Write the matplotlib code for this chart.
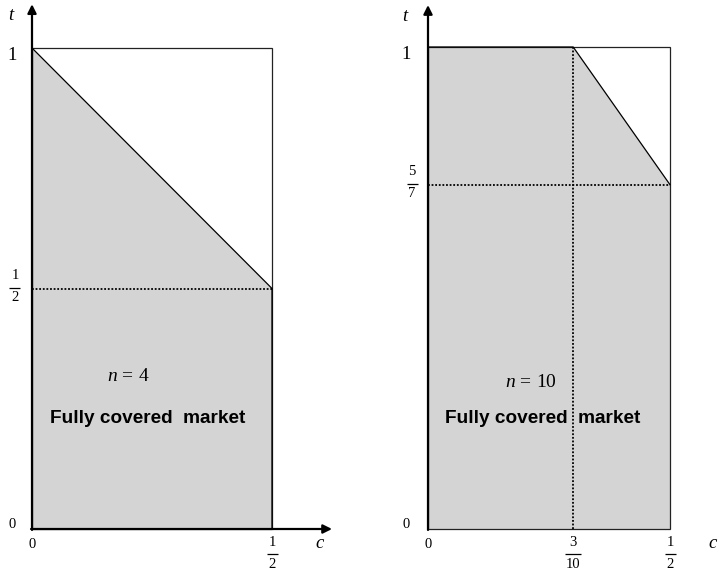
import matplotlib
matplotlib.use("Agg")
import matplotlib.pyplot as plt
from matplotlib.patches import Polygon, Rectangle
from matplotlib.transforms import offset_copy

plt.rcParams["mathtext.fontset"] = "custom"
plt.rcParams["mathtext.rm"] = "Liberation Serif"
plt.rcParams["mathtext.it"] = "Liberation Serif:italic"

SERIF = "Liberation Serif"
SANS = "Liberation Sans"
FILL = "#d4d4d4"

# Parameter space: cost c in [0, 1/2], transport t in [0, 1]
C_MAX = 0.5
T_MAX = 1.0

# Panel A: n = 4
left_n = 4
left_region_c = [0.0, 0.5, 0.5, 0.0]
left_region_t = [1.0, 0.5, 0.0, 0.0]
left_level = 0.5
left_xticks = [0.0, 0.5]
left_xlabels = ["0", "1/2"]
left_yticks = [0.0, 0.5, 1.0]
left_ylabels = ["0", "1/2", "1"]

# Panel B: n = 10
right_n = 10
right_region_c = [0.0, 0.3, 0.5, 0.5, 0.0]
right_region_t = [1.0, 1.0, 5 / 7, 0.0, 0.0]
right_kink = 0.3
right_level = 5 / 7
right_xticks = [0.0, 0.3, 0.5]
right_xlabels = ["0", "3/10", "1/2"]
right_yticks = [0.0, 5 / 7, 1.0]
right_ylabels = ["0", "5/7", "1"]

region_label = "Fully covered  market"

fig = plt.figure(figsize=(7.2, 5.75), dpi=100)


def shifted(ax, dx=0, dy=0):
    return offset_copy(ax.transData, fig=fig, x=dx, y=dy, units="dots")


def label(ax, x, y, s, dx=0, dy=0, size=13, **kw):
    kw.setdefault("family", SERIF)
    ax.text(x, y, s, transform=shifted(ax, dx, dy), ha="center",
            va="center", fontsize=size, **kw)


def frac_label(ax, x, y, text, dx=0, dy=0, size=10):
    num, den = text.split("/")
    label(ax, x, y, num, dx, dy + 12, size=size)
    label(ax, x, y, den, dx, dy - 10, size=size)
    ppu = ax.transData.transform((1, 0))[0] - ax.transData.transform((0, 0))[0]
    hw = (5.5 + 2.5 * (len(den) - 1)) / ppu
    ax.plot([x - hw, x + hw], [y, y], color="k", lw=0.9,
            transform=shifted(ax, dx, dy), solid_capstyle="butt")


def tick_text(ax, x, y, text, dx, dy, big=13.5, small=10.5, zero=10.5):
    if "/" in text:
        frac_label(ax, x, y, text, dx, dy, size=small)
    elif text == "0":
        label(ax, x, y, text, dx, dy, size=zero)
    else:
        label(ax, x, y, text, dx, dy, size=big)


def draw_panel(ax, region_c, region_t, level, n, xticks, xlabels, yticks,
               ylabels, kink=None, x_tip=0.62, y_tip=1.09, ylab_dx=-20,
               frac_dx=-18, c_pos=0.6, n_pos=(0.2, 0.32),
               text_pos=(0.24, 0.23)):
    ax.add_patch(Polygon(list(zip(region_c, region_t)), closed=True,
                         facecolor=FILL, edgecolor="none", zorder=1))
    ax.add_patch(Rectangle((0, 0), C_MAX, T_MAX, fill=False,
                           edgecolor="#222222", lw=0.9, zorder=2))
    # upper boundary of the covered region
    ax.plot(region_c[:3], region_t[:3], color="k", lw=0.9, zorder=3)
    ax.plot([0, C_MAX], [level, level], color="k", lw=1.3,
            ls=(0, (1, 1)), zorder=3)
    if kink is not None:
        ax.plot([kink, kink], [0, T_MAX], color="k", lw=1.3,
                ls=(0, (1, 1)), zorder=3)

    arrow = dict(arrowstyle="-|>", color="k", lw=1.6, mutation_scale=13,
                 shrinkA=0, shrinkB=0)
    ax.annotate("", xy=(x_tip, 0), xytext=(-0.002, 0), arrowprops=arrow,
                zorder=5)
    ax.annotate("", xy=(0, y_tip), xytext=(0, -0.002), arrowprops=arrow,
                zorder=5)

    label(ax, 0, y_tip, "$t$", dx=ylab_dx, dy=-11, size=13.5)
    label(ax, c_pos, 0, "$c$", dy=-15, size=13.5)

    for x, s in zip(xticks, xlabels):
        if "/" in s:
            tick_text(ax, x, 0, s, dx=0, dy=-25)
        else:
            tick_text(ax, x, 0, s, dx=0, dy=-15)
    for y, s in zip(yticks, ylabels):
        if "/" in s:
            tick_text(ax, 0, y, s, dx=frac_dx, dy=1)
        elif s == "0":
            tick_text(ax, 0, y, s, dx=ylab_dx, dy=5)
        else:
            tick_text(ax, 0, y, s, dx=ylab_dx, dy=-7)

    ax.text(n_pos[0], n_pos[1], f"$n\\,=\\,{n}$", ha="center", va="center",
            fontsize=14, zorder=4)
    ax.text(text_pos[0], text_pos[1], region_label, ha="center",
            va="center", fontsize=13.7, family=SANS, weight="bold", zorder=4)


ax_l = fig.add_axes([0, 0, 0.5, 1])
ax_l.set_xlim(-32 / 480, 328 / 480)
ax_l.set_ylim(-46 / 481, 529 / 481)
ax_l.axis("off")

ax_r = fig.add_axes([0.5, 0, 0.5, 1])
ax_r.set_xlim(-68 / 484, 292 / 484)
ax_r.set_ylim(-46 / 482, 529 / 482)
ax_r.axis("off")

draw_panel(ax_l, left_region_c, left_region_t, left_level, left_n,
           left_xticks, left_xlabels, left_yticks, left_ylabels,
           x_tip=0.625, y_tip=1.091, ylab_dx=-20, frac_dx=-17, c_pos=0.6,
           n_pos=(0.200, 0.320), text_pos=(0.24, 0.230))
draw_panel(ax_r, right_region_c, right_region_t, right_level, right_n,
           right_xticks, right_xlabels, right_yticks, right_ylabels,
           kink=right_kink, x_tip=0.66, y_tip=1.087, ylab_dx=-22,
           frac_dx=-16, c_pos=0.588, n_pos=(0.212, 0.307),
           text_pos=(0.237, 0.230))

fig.savefig("out.png", dpi=100)
